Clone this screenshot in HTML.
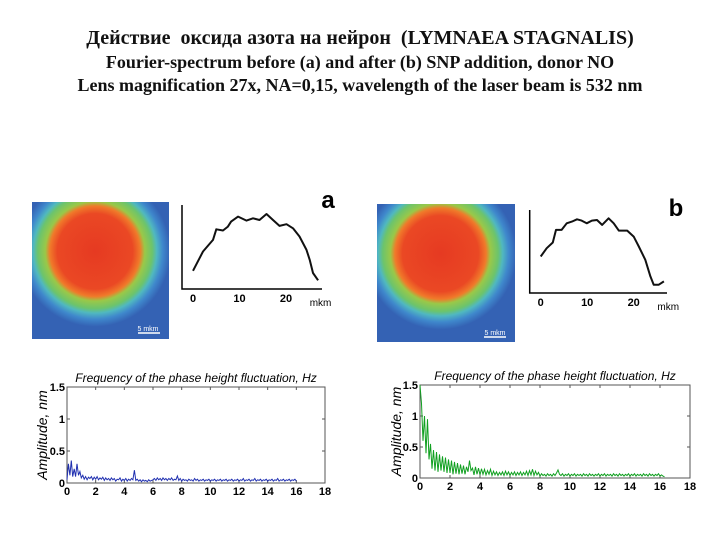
<!DOCTYPE html>
<html><head><meta charset="utf-8">
<style>
body{margin:0;background:#fff;width:720px;height:540px;overflow:hidden;position:relative;font-family:"Liberation Serif","Noto Serif CJK SC",serif}
.t{position:absolute;left:0;width:720px;text-align:center;font-weight:bold;color:#111;white-space:nowrap}
</style></head><body>
<div class="t" style="top:27px;font-size:20px">Действие&nbsp; оксида азота на нейрон&nbsp; (LYMNAEA STAGNALIS)</div>
<div class="t" style="top:52px;font-size:18px">Fourier-spectrum before (a) and after (b) SNP addition, donor NO</div>
<div class="t" style="top:75px;font-size:18px">Lens magnification 27x, NA=0,15, wavelength of the laser beam is 532 nm</div>

<svg width="720" height="540" style="position:absolute;left:0;top:0" font-family="Liberation Sans, sans-serif">
<defs>
<radialGradient id="ga" cx="0.46" cy="0.36" r="0.55">
<stop offset="0" stop-color="#e63a22"/><stop offset="0.5" stop-color="#ea4824"/><stop offset="0.6" stop-color="#f07a2a"/>
<stop offset="0.66" stop-color="#9ac848"/><stop offset="0.76" stop-color="#6cc46c"/><stop offset="0.82" stop-color="#50b8c0"/><stop offset="0.9" stop-color="#3f88cc"/><stop offset="1" stop-color="#3462b4"/>
</radialGradient>
</defs>
<g>
<rect x="32" y="202" width="137" height="137" fill="url(#ga)"/>
<text x="148" y="331" font-size="7" fill="#fff" text-anchor="middle">5 mkm</text>
<line x1="138" y1="333" x2="160" y2="333" stroke="#fff" stroke-width="1.5"/>
</g>
<g>
<rect x="377" y="204" width="138" height="138" fill="url(#ga)"/>
<text x="495" y="335" font-size="7" fill="#fff" text-anchor="middle">5 mkm</text>
<line x1="484" y1="337" x2="506" y2="337" stroke="#fff" stroke-width="1.5"/>
</g>
<text x="328" y="208" font-size="24" font-weight="bold" text-anchor="middle">a</text>
<text x="676" y="216" font-size="24" font-weight="bold" text-anchor="middle">b</text>
<g id="profA"></g><g id="profB"></g><g id="specA"></g><g id="specB"></g>
</svg>
<script>
const profAx=[0,2.15,4.3,5.0,6.45,7.5,8.2,9.7,11.5,12.9,14.3,15.8,17.2,18.6,20.1,21.5,22.9,24.4,25.1,25.8,26.9];
const profAy=[21.7,44.7,58.5,71.1,69.6,74.3,80.2,86.2,81.4,84.2,82.2,89.3,82.2,75.1,77.1,72.3,62.5,46.6,34.8,19.0,10.3];
const profBx=[0,1.3,2.6,3.3,4.5,5.6,6.7,7.8,8.8,9.9,11.0,12.1,13.2,14.6,15.7,16.8,18.6,20.0,21.1,22.5,23.6,24.3,25.4,26.5];
const profBy=[44,54,60.8,76,76,84,86,88.8,87.2,84,87.2,88,82,90,84,75.2,75.2,68,56,40,20,10,10,14];
const profTicks=[0,10,20];
const freqTicks=[0,2,4,6,8,10,12,14,16,18];
const ampTicks=[0,0.5,1,1.5];
const ampTickLabels=["0","0.5","1","1.5"];
const specA=[0.05,0.30,0.12,0.35,0.10,0.22,0.10,0.30,0.12,0.18,
0.08,0.12,0.06,0.10,0.05,0.09,0.07,0.10,0.05,0.09,
0.06,0.10,0.05,0.08,0.06,0.09,0.04,0.08,0.05,0.07,
0.04,0.08,0.05,0.07,0.03,0.06,0.05,0.08,0.03,0.06,
0.04,0.07,0.03,0.06,0.04,0.07,0.05,0.20,0.04,0.06,
0.03,0.05,0.02,0.05,0.03,0.04,0.02,0.05,0.03,0.04,
0.05,0.07,0.04,0.08,0.05,0.07,0.04,0.08,0.05,0.07,
0.04,0.07,0.05,0.08,0.04,0.06,0.05,0.11,0.04,0.07,
0.03,0.06,0.04,0.05,0.03,0.06,0.04,0.05,0.03,0.07,
0.04,0.06,0.03,0.05,0.04,0.06,0.03,0.05,0.04,0.06,
0.03,0.05,0.04,0.06,0.03,0.05,0.04,0.06,0.03,0.05,
0.04,0.06,0.03,0.05,0.04,0.06,0.03,0.05,0.04,0.06,
0.03,0.05,0.04,0.07,0.03,0.05,0.04,0.06,0.03,0.05,
0.04,0.07,0.03,0.05,0.04,0.06,0.03,0.05,0.04,0.06,
0.03,0.05,0.04,0.06,0.03,0.05,0.04,0.07,0.03,0.05,
0.04,0.06,0.03,0.05,0.04,0.06,0.03,0.05,0.04,0.06,0.03];
const specB=[1.5,1.2,0.6,1.0,0.4,0.95,0.3,0.55,0.15,0.45,
0.12,0.42,0.10,0.38,0.12,0.35,0.10,0.33,0.08,0.30,
0.08,0.28,0.06,0.26,0.07,0.24,0.06,0.22,0.07,0.20,
0.06,0.18,0.10,0.28,0.12,0.16,0.05,0.18,0.06,0.16,
0.05,0.15,0.06,0.14,0.05,0.12,0.06,0.14,0.04,0.11,
0.05,0.10,0.04,0.09,0.05,0.10,0.04,0.11,0.05,0.10,
0.04,0.09,0.05,0.10,0.04,0.09,0.05,0.10,0.04,0.09,
0.05,0.11,0.04,0.12,0.05,0.14,0.04,0.11,0.05,0.09,
0.03,0.07,0.04,0.06,0.03,0.07,0.04,0.06,0.03,0.07,
0.04,0.08,0.13,0.06,0.04,0.07,0.03,0.06,0.04,0.07,
0.03,0.06,0.04,0.07,0.03,0.06,0.04,0.06,0.03,0.07,
0.04,0.06,0.03,0.07,0.04,0.06,0.03,0.06,0.04,0.07,
0.03,0.06,0.04,0.07,0.03,0.06,0.04,0.06,0.03,0.07,
0.04,0.06,0.03,0.07,0.04,0.06,0.03,0.06,0.04,0.07,
0.03,0.06,0.04,0.07,0.03,0.06,0.04,0.06,0.03,0.07,
0.04,0.06,0.03,0.07,0.04,0.06,0.03,0.06,0.04,0.07,
0.03,0.05,0.03,0.02];
const NS='http://www.w3.org/2000/svg';
function mk(p,tag,a,txt){const e=document.createElementNS(NS,tag);for(const k in a)e.setAttribute(k,a[k]);if(txt!==undefined)e.textContent=txt;p.appendChild(e);return e;}

function profile(id,ox,y0,top,xEnd,xs,ys,name){
  const g=document.getElementById(id);
  const axX=ox-11, sx=v=>ox+v*4.65, sy=v=>y0-v/100*(y0-top);
  const ax=mk(g,'path',{d:`M${axX},${top} L${axX},${y0} L${xEnd},${y0}`,fill:'none',stroke:'#000','stroke-width':1.5});
  
  
  profTicks.forEach(t=>{const e=mk(g,'text',{x:sx(t),y:y0+13,'font-size':11,'font-weight':'bold','text-anchor':'middle'},String(t));
    
    });
  const u=mk(g,'text',{x:sx(27)+2,y:y0+17,'font-size':10,'text-anchor':'middle'},'mkm');
  
  
  const d=xs.map((x,i)=>(i?'L':'M')+sx(x).toFixed(1)+','+sy(ys[i]).toFixed(1)).join(' ');
  const l=mk(g,'path',{d,fill:'none',stroke:'#111','stroke-width':2,'stroke-linejoin':'round'});
  
  
}
profile('profA',193,289,205,322,profAx,profAy,'profile-a');
profile('profB',540.7,293,210,667,profBx,profBy,'profile-b');

function spectrum(id,L,R,T,B,vals,color,name,ylx){
  const g=document.getElementById(id);
  const sx=v=>L+v/18*(R-L), sy=v=>B-v/1.5*(B-T);
  const box=mk(g,'rect',{x:L,y:T,width:R-L,height:B-T,fill:'#fff',stroke:'#555','stroke-width':1});
  
  
  freqTicks.forEach(t=>{mk(g,'line',{x1:sx(t),x2:sx(t),y1:B,y2:B-3,stroke:'#555'});mk(g,'line',{x1:sx(t),x2:sx(t),y1:T,y2:T+3,stroke:'#555'});
    const e=mk(g,'text',{x:sx(t),y:B+12,'font-size':11,'font-weight':'bold','text-anchor':'middle'},String(t));
    
    });
  ampTicks.forEach((t,i)=>{mk(g,'line',{x1:L,x2:L+3,y1:sy(t),y2:sy(t),stroke:'#555'});mk(g,'line',{x1:R,x2:R-3,y1:sy(t),y2:sy(t),stroke:'#555'});
    const e=mk(g,'text',{x:L-2,y:sy(t)+4,'font-size':11,'font-weight':'bold','text-anchor':'end'},ampTickLabels[i]);
    
    });
  const d=vals.map((v,i)=>(i?'L':'M')+sx(i*0.1).toFixed(1)+','+sy(v).toFixed(1)).join(' ');
  const l=mk(g,'path',{d,fill:'none',stroke:color,'stroke-width':1});
  
  
  const t=mk(g,'text',{x:(L+R)/2,y:T-5,'font-size':12,'font-style':'italic','text-anchor':'middle'},'Frequency of the phase height fluctuation, Hz');
  
  
  const yl=mk(g,'text',{x:0,y:0,'font-size':14,'font-style':'italic','text-anchor':'middle',transform:`translate(${ylx},${(T+B)/2}) rotate(-90)`},'Amplitude, nm');
  
  
}
spectrum('specA',67,325,387,483,specA,'#2030b0','spectrum-a',47);
spectrum('specB',420,690,385,478,specB,'#10a020','spectrum-b',401);
</script>
</body></html>
